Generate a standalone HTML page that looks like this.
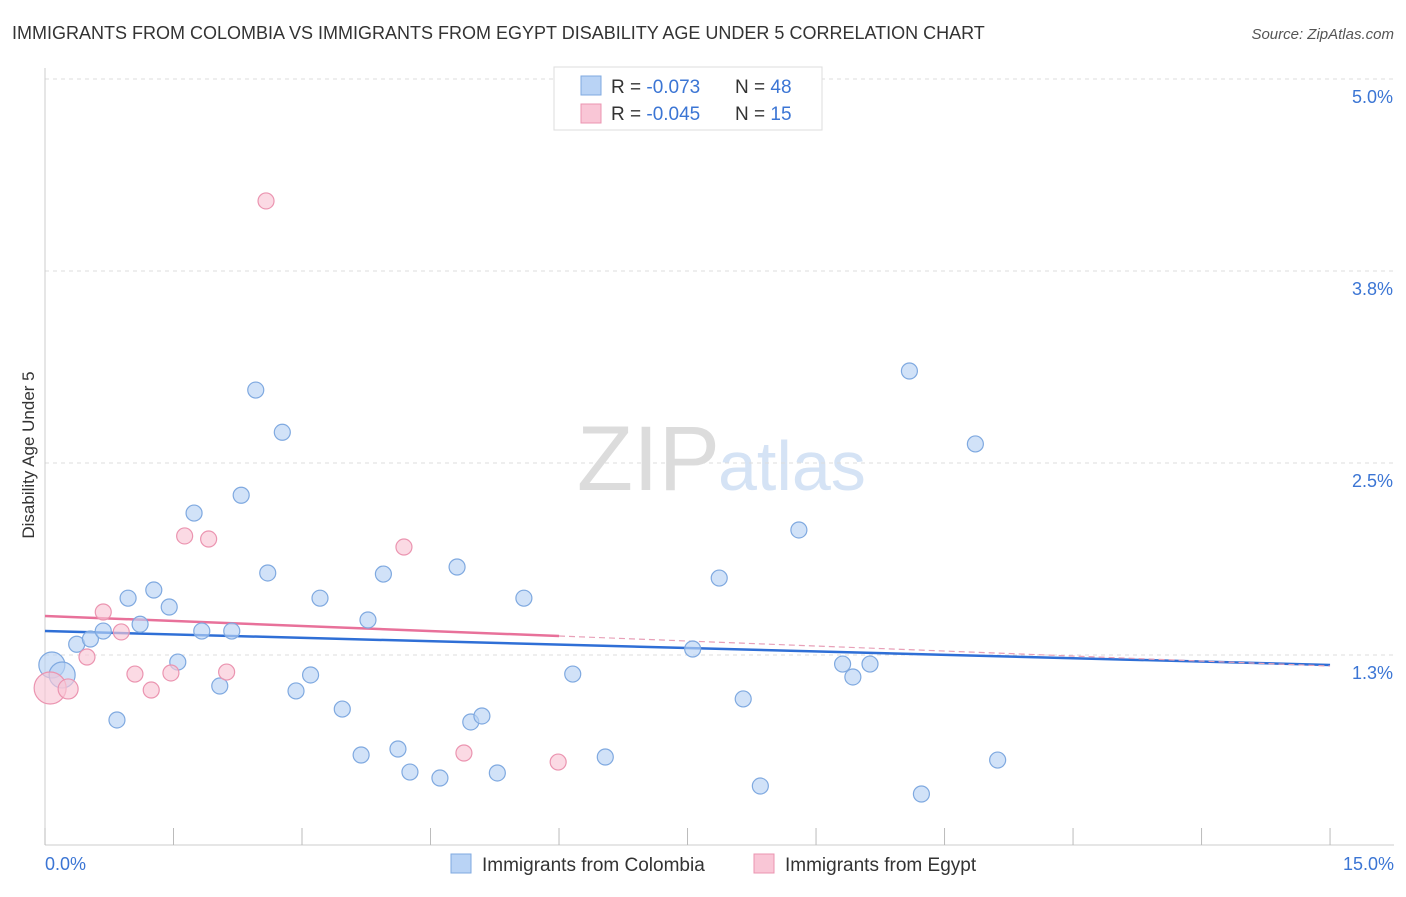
<!DOCTYPE html>
<html><head><meta charset="utf-8"><style>
body{margin:0;background:#fff;font-family:"Liberation Sans",sans-serif;}
svg text{font-family:"Liberation Sans",sans-serif;}
</style></head><body>
<svg id="chart" width="1406" height="892" xmlns="http://www.w3.org/2000/svg">
<text x="12" y="39" font-size="18" fill="#333">IMMIGRANTS FROM COLOMBIA VS IMMIGRANTS FROM EGYPT DISABILITY AGE UNDER 5 CORRELATION CHART</text>
<text x="1394" y="39" font-size="15" fill="#555" font-style="italic" text-anchor="end">Source: ZipAtlas.com</text>
<text x="720" y="490" font-size="92" fill="#dcdcdc" text-anchor="end" font-family="Liberation Serif">ZIP</text>
<text x="718" y="490" font-size="70" fill="#d5e3f5">atlas</text>
<g id="grid"></g>
<g id="axes"></g>
<g id="lines"></g>
<g id="pts"></g>
<text transform="translate(34,455) rotate(-90)" font-size="17" fill="#333" text-anchor="middle">Disability Age Under 5</text>
<g>
<rect x="554" y="67" width="268" height="63" fill="#fff" stroke="#ddd"/>
<rect x="581" y="76" width="20" height="19" fill="#b9d3f5" stroke="#7fa9e0"/>
<rect x="581" y="104" width="20" height="19" fill="#f9c6d6" stroke="#eb94b0"/>
<text x="611" y="93" font-size="19" fill="#333">R = <tspan fill="#3b75d4">-0.073</tspan></text>
<text x="735" y="93" font-size="19" fill="#333">N = <tspan fill="#3b75d4">48</tspan></text>
<text x="611" y="120" font-size="19" fill="#333">R = <tspan fill="#3b75d4">-0.045</tspan></text>
<text x="735" y="120" font-size="19" fill="#333">N = <tspan fill="#3b75d4"> 15</tspan></text>
</g>
<g>
<rect x="451" y="854" width="20" height="19" fill="#b9d3f5" stroke="#7fa9e0"/>
<text x="482" y="871" font-size="19" fill="#333">Immigrants from Colombia</text>
<rect x="754" y="854" width="20" height="19" fill="#f9c6d6" stroke="#eb94b0"/>
<text x="785" y="871" font-size="19" fill="#333">Immigrants from Egypt</text>
</g>
</svg>
<script>
const colX=[0.08,0.2,0.37,0.53,0.68,0.84,0.97,1.11,1.27,1.45,1.55,1.74,1.83,2.04,2.18,2.29,2.46,2.60,2.77,2.93,3.10,3.21,3.47,3.69,3.77,3.95,4.12,4.26,4.61,4.81,4.97,5.10,5.28,5.59,6.16,6.54,7.56,7.87,8.15,8.35,8.80,9.31,9.43,9.63,10.09,10.23,10.86,11.12];
const colY=[1.185,1.12,1.32,1.354,1.406,0.827,1.62,1.45,1.673,1.5625,1.204,2.174,1.406,1.048,1.406,2.29,2.975,1.784,2.70,1.016,1.12,1.62,0.898,0.599,1.478,1.777,0.638,0.488,0.449,1.823,0.814,0.853,0.482,1.62,1.126,0.586,1.289,1.751,0.964,0.397,2.064,1.191,1.107,1.191,3.099,0.345,2.624,0.566];
const egX=[0.06,0.27,0.49,0.68,0.89,1.05,1.24,1.47,1.63,1.91,2.12,2.58,4.19,4.89,5.99];
const egY=[1.035,1.029,1.237,1.53,1.40,1.126,1.022,1.133,2.025,2.005,1.139,4.206,1.953,0.612,0.553];
const colTrend=[1.406,1.185];
const egTrend=[1.504,1.178];
const yTicks=[5.0,3.75,2.5,1.25];
const yTickLabels=["5.0%","3.8%","2.5%","1.3%"];
const xTicks=[0,1.5,3,4.5,6,7.5,9,10.5,12,13.5,15];
const NS="http://www.w3.org/2000/svg";
const X=v=>45+v*85.67, Y=v=>847-v*153.6;
function mk(p,t,a){const e=document.createElementNS(NS,t);for(const k in a)e.setAttribute(k,a[k]);document.getElementById(p).appendChild(e);return e;}
yTicks.forEach((t,i)=>{
 const l=mk('grid','line',{x1:45,x2:1394,y1:Y(t),y2:Y(t),stroke:'#ddd','stroke-dasharray':'4,4'});
 
 
 const tx=mk('grid','text',{x:1393,y:Y(t)+24,'font-size':18,fill:'#3b75d4','text-anchor':'end'});
 tx.textContent=yTickLabels[i];
 
 
});
mk('axes','line',{x1:45,x2:1394,y1:845,y2:845,stroke:'#ccc'});
mk('axes','line',{x1:45,x2:45,y1:68,y2:845,stroke:'#ccc'});
xTicks.forEach(t=>{const l=mk('axes','line',{x1:X(t),x2:X(t),y1:828,y2:845,stroke:'#bbb'});
 
 });
let a=mk('axes','text',{x:45,y:870,'font-size':18,fill:'#3b75d4'});a.textContent='0.0%';


a=mk('axes','text',{x:1394,y:870,'font-size':18,fill:'#3b75d4','text-anchor':'end'});a.textContent='15.0%';


// trend lines
let l=mk('lines','line',{x1:X(0),y1:Y(colTrend[0]),x2:X(15),y2:Y(colTrend[1]),stroke:'#2f6fd6','stroke-width':2.5});


const egAt=v=>egTrend[0]+(egTrend[1]-egTrend[0])*v/15;
l=mk('lines','line',{x1:X(0),y1:Y(egAt(0)),x2:X(6),y2:Y(egAt(6)),stroke:'#e8719a','stroke-width':2.5});


l=mk('lines','line',{x1:X(6),y1:Y(egAt(6)),x2:X(15),y2:Y(egAt(15)),stroke:'#e8a0b8','stroke-width':1.2,'stroke-dasharray':'6,4'});


colX.forEach((x,i)=>{const c=mk('pts','circle',{cx:X(x),cy:Y(colY[i]),r:i<2?13:8,fill:'#b9d3f5','fill-opacity':0.65,stroke:'#7fa9e0','stroke-width':1.2});
 
 });
egX.forEach((x,i)=>{const c=mk('pts','circle',{cx:X(x),cy:Y(egY[i]),r:i<1?16:(i<2?10:8),fill:'#f9c6d6','fill-opacity':0.65,stroke:'#eb94b0','stroke-width':1.2});
 
 });
</script>
</body></html>
